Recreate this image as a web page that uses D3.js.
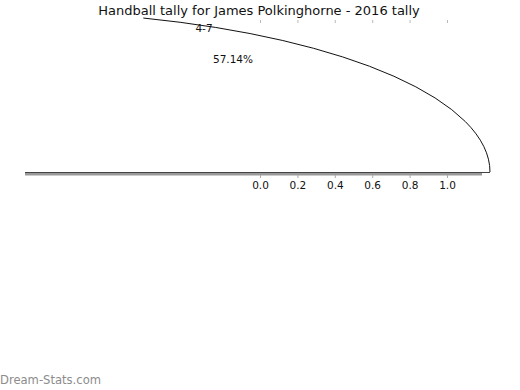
<!DOCTYPE html>
<html>
<head>
<meta charset="utf-8">
<script src="https://cdn.jsdelivr.net/npm/d3@7"></script>
<style>
  body { margin: 0; background: #fff; }
  text { font-family: "DejaVu Sans", sans-serif; }
</style>
</head>
<body>
<svg width="520" height="390"></svg>
<script>
// data
const player = "James Polkinghorne";
const season = "2016";
const wins = 4, total = 7;
const tickValues = [0, 0.2, 0.4, 0.6, 0.8, 1.0];

const svg = d3.select("svg");

const x = d3.scaleLinear().domain([0, 1]).range([260, 447]);
const axisY = 172;

// title
svg.append("text")
  .attr("x", 259).attr("y", 15)
  .attr("text-anchor", "middle")
  .attr("font-size", 13)
  .attr("fill", "#111")
  .text(`Handball tally for ${player} - ${season} tally`);

// the (partial) pie wedge outline, drawn as a stretched unit arc
const p = d3.path();
p.arc(0, 0, 1, -1.274, 0);
svg.append("g")
  .attr("transform", `translate(0,${axisY}) scale(490,161)`)
  .append("path")
  .attr("d", p.toString())
  .attr("fill", "none")
  .attr("stroke", "#111")
  .attr("stroke-width", 1)
  .attr("vector-effect", "non-scaling-stroke");

// baseline
svg.append("rect")
  .attr("x", 25).attr("y", axisY + 1)
  .attr("width", 457).attr("height", 2.5)
  .attr("fill", "#999");
svg.append("line")
  .attr("x1", 25).attr("x2", 490)
  .attr("y1", axisY + 0.5).attr("y2", axisY + 0.5)
  .attr("stroke", "#444").attr("stroke-width", 1);

// bottom axis
const gx = svg.append("g")
  .attr("transform", `translate(0,${axisY + 3})`)
  .call(d3.axisBottom(x).tickValues(tickValues).tickSize(3).tickPadding(4)
    .tickFormat(d3.format(".1f")));
gx.select(".domain").remove();
gx.selectAll("line").attr("stroke", "#aaa");
gx.selectAll("text").attr("font-size", 10.5).attr("fill", "#111")
  .attr("font-family", "DejaVu Sans, sans-serif");

// top tick marks
const gt = svg.append("g")
  .attr("transform", "translate(0,20)")
  .call(d3.axisBottom(x).tickValues(tickValues).tickSize(3).tickFormat(""));
gt.select(".domain").remove();
gt.selectAll("line").attr("stroke", "#bbb");

// labels
svg.append("text")
  .attr("x", 204).attr("y", 32)
  .attr("text-anchor", "middle")
  .attr("font-size", 10.5).attr("fill", "#111")
  .text(`${wins}-${total}`);
svg.append("text")
  .attr("x", 233).attr("y", 63)
  .attr("text-anchor", "middle")
  .attr("font-size", 10.5).attr("fill", "#111")
  .text(d3.format(".2f")(wins / total * 100) + "%");

// watermark
svg.append("text")
  .attr("x", 0).attr("y", 384)
  .attr("font-size", 12.5)
  .attr("fill", "#8c8c8c")
  .attr("font-family", "'Open Sans', sans-serif")
  .attr("textLength", 101)
  .attr("lengthAdjust", "spacingAndGlyphs")
  .text("Dream-Stats.com");
</script>
</body>
</html>
